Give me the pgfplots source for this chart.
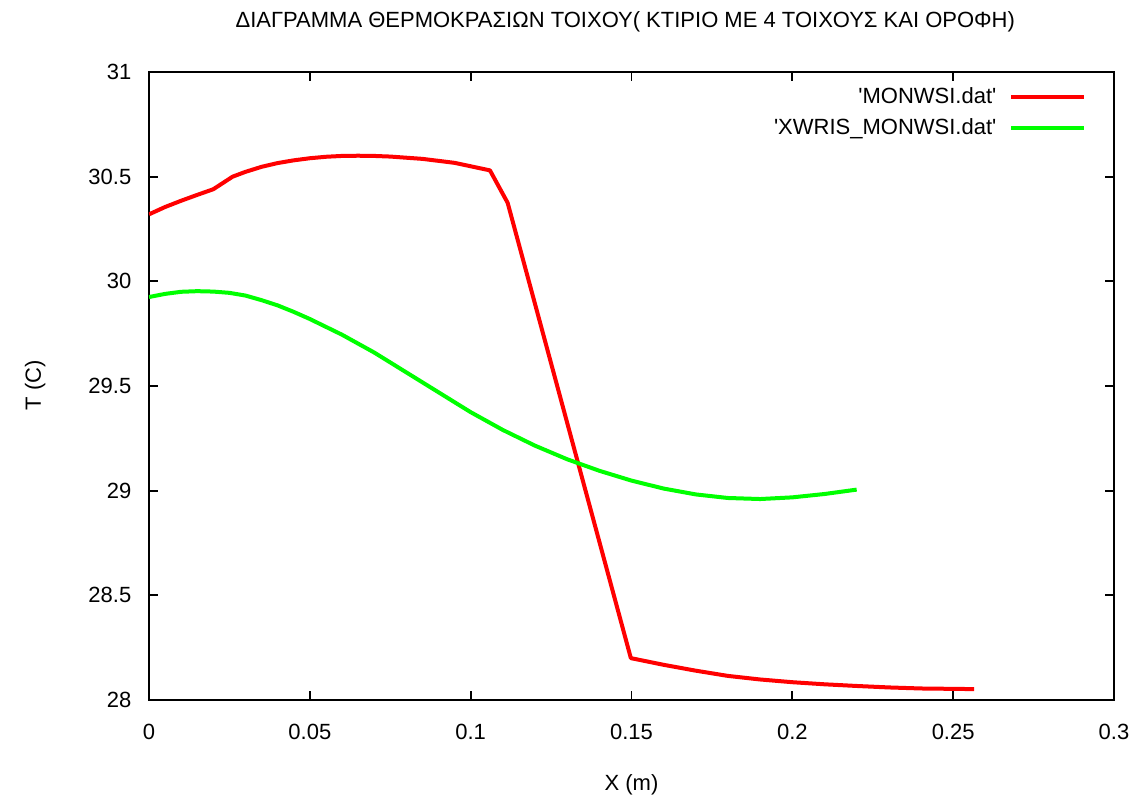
\documentclass[border=0pt]{standalone}
\usepackage{fontspec}
\setmainfont{Liberation Sans}
\usepackage{pgfplots}
\pgfplotsset{compat=1.18}

\definecolor{gpred}{RGB}{255,0,0}
\definecolor{gpgreen}{RGB}{0,255,0}

\begin{document}
\fontsize{11}{13}\selectfont
\begin{tikzpicture}
\path[use as bounding box] (-74.5pt,-48.5pt) rectangle (493.5pt,350pt);
\begin{axis}[
  at={(0,0)}, anchor=south west,
  scale only axis,
  width=482.5pt, height=314pt,
  xmin=0, xmax=0.3, ymin=28, ymax=31,
  xtick={0,0.05,...,0.3},
  ytick={28,28.5,...,31},
  xticklabels={0,0.05,0.1,0.15,0.2,0.25,0.3},
  yticklabels={28,28.5,29,29.5,30,30.5,31},
  tick align=inside,
  major tick length=4.5pt,
  tick style={black, line width=0.9pt},
  axis line style={black, line width=1pt},
  xticklabel style={yshift=-8pt},
  yticklabel style={xshift=-5pt},
  title={ΔΙΑΓΡΑΜΜΑ ΘΕΡΜΟΚΡΑΣΙΩΝ ΤΟΙΧΟΥ( ΚΤΙΡΙΟ ΜΕ 4 ΤΟΙΧΟΥΣ ΚΑΙ ΟΡΟΦΗ)},
  title style={at={(axis description cs:0.4935,1.0605)}, anchor=center},
  xlabel={X (m)},
  xlabel style={at={(axis description cs:0.5,-0.135)}, anchor=center},
  ylabel={T (C)},
  ylabel style={at={(axis description cs:-0.118,0.5016)}, anchor=center},
  legend cell align=right,
  legend plot pos=right,
  legend style={draw=none, fill=none, at={(axis description cs:0.978,0.9887)}, anchor=north east,
    row sep=2pt, font=\fontsize{11}{13}\selectfont},
  legend image code/.code={\path (0pt,0pt); \draw[#1] (4.5pt,0pt) -- (41pt,0pt);},
]
% wall temperature profile, single-layer wall
\addplot[gpred, line width=2pt, line join=round] coordinates {
  (0,30.32) (0.005,30.355) (0.01,30.385) (0.015,30.413) (0.02,30.44)
  (0.026,30.50) (0.03,30.523) (0.035,30.547) (0.04,30.565) (0.045,30.578)
  (0.05,30.588) (0.055,30.595) (0.06,30.599) (0.065,30.60) (0.07,30.599)
  (0.075,30.596) (0.085,30.585) (0.095,30.566) (0.106,30.53) (0.1115,30.375)
  (0.1498,28.20)
  (0.16,28.168) (0.17,28.14) (0.18,28.115) (0.19,28.098) (0.20,28.085)
  (0.21,28.075) (0.22,28.067) (0.23,28.06) (0.24,28.055) (0.2565,28.052)
};
\addlegendentry{\textquotesingle MONWSI.dat\textquotesingle}
% wall temperature profile without the outer layer
\addplot[gpgreen, line width=2pt, line join=round] coordinates {
  (0,29.925) (0.005,29.94) (0.01,29.95) (0.015,29.953) (0.02,29.951)
  (0.025,29.945) (0.03,29.932) (0.035,29.91) (0.04,29.885) (0.045,29.854)
  (0.05,29.82) (0.06,29.745)
  (0.07,29.66) (0.08,29.565) (0.09,29.47) (0.10,29.375) (0.11,29.29)
  (0.12,29.215) (0.13,29.15) (0.14,29.095) (0.15,29.048) (0.16,29.01)
  (0.17,28.982) (0.18,28.965) (0.19,28.96) (0.20,28.968) (0.21,28.984)
  (0.22,29.005)
};
\addlegendentry{\textquotesingle XWRIS\_MONWSI.dat\textquotesingle}
\end{axis}
\end{tikzpicture}
\end{document}
